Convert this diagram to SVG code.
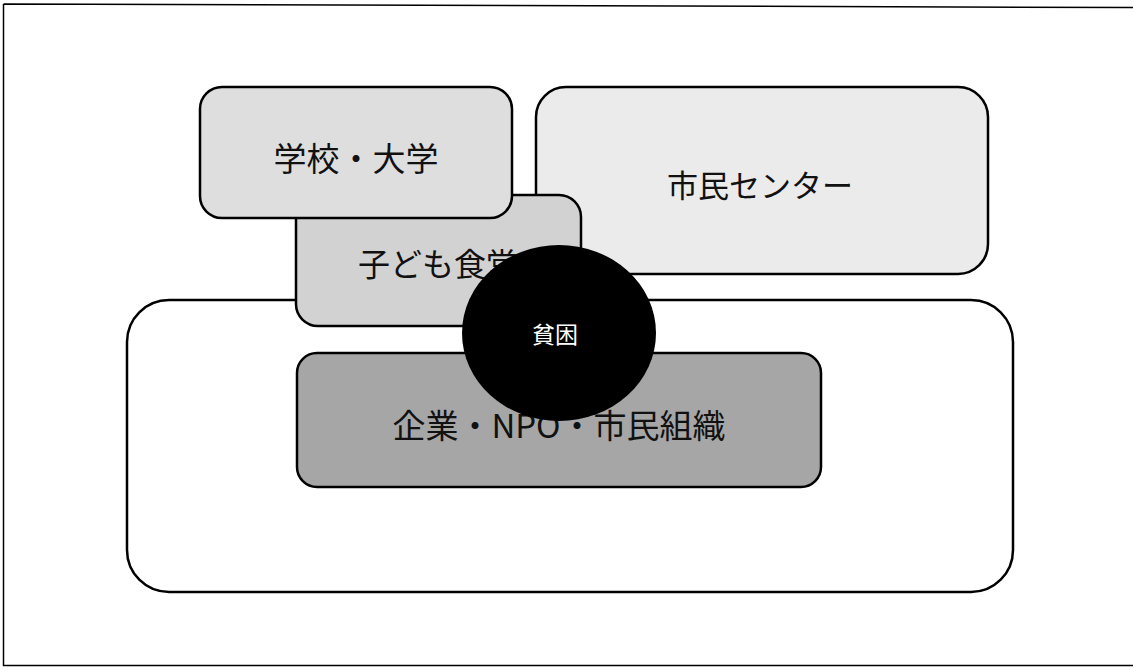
<svg xmlns="http://www.w3.org/2000/svg" width="1134" height="670" viewBox="0 0 1134 670">
<style>
.box{stroke:#000;stroke-width:2.5}
.t{font-family:"Noto Sans CJK JP","Noto Sans",sans-serif;fill:#111;text-anchor:middle;dominant-baseline:central}
</style>
<rect x="0" y="0" width="1134" height="670" fill="#fff"/>
<path d="M3.5,4 L1133,7.5 M3.5,4 L3.5,665.5 L1133,665.5" fill="none" stroke="#000" stroke-width="1.5"/>
<g id="outer">
<rect class="box" x="127" y="300" width="886" height="292" rx="42" fill="#fff"/>
</g>
<g id="shimin-center">
<rect class="box" x="536" y="87" width="452" height="187" rx="30" fill="#ebebeb"/>
<text class="t" x="760" y="183" font-size="31">市民センター</text>
</g>
<g id="kodomo">
<rect class="box" x="296" y="195" width="285" height="131" rx="22" fill="#d2d2d2"/>
<text class="t" x="438" y="262" font-size="32">子ども食堂</text>
</g>
<g id="gakkou">
<rect class="box" x="200" y="87" width="312" height="131" rx="22" fill="#dedede"/>
<text class="t" x="356" y="157" font-size="33">学校・大学</text>
</g>
<g id="kigyou">
<rect class="box" x="297" y="353" width="524" height="134" rx="20" fill="#a6a6a6"/>
<text class="t" x="559" y="424" font-size="33">企業・NPO・市民組織</text>
</g>
<g id="hinkon">
<ellipse cx="559" cy="333" rx="97" ry="88" fill="#000"/>
<text class="t" x="555" y="333" font-size="23" style="fill:#fff">貧困</text>
</g>
<g id="connectors"></g>
</svg>
